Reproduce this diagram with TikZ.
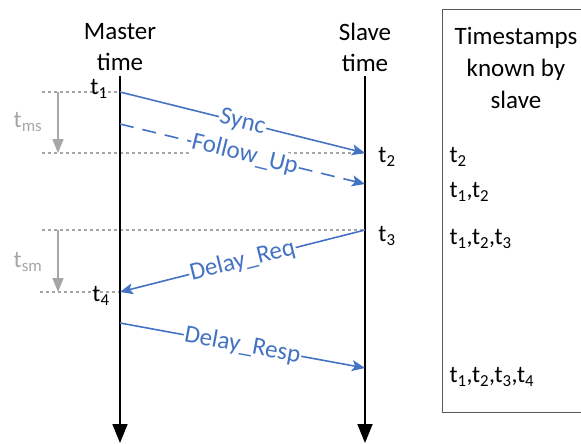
\documentclass[tikz,border=0pt]{standalone}
\usepackage{fontspec}
\setmainfont{Carlito}
\usetikzlibrary{arrows.meta}
\definecolor{msgblue}{HTML}{4472C4}
\definecolor{guide}{HTML}{A6A6A6}
\definecolor{frame}{HTML}{595959}
\tikzset{
  timeline/.style={line width=1.8pt,black,-{Triangle[width=15pt,length=19pt]}},
  msg/.style={line width=1.6pt,msgblue,-{Stealth[width=11pt,length=13pt,inset=3pt]}},
  msglabel/.style={text=msgblue,fill=white,inner sep=1pt,sloped,font=\fontsize{25}{30}\selectfont},
  guideline/.style={guide,line width=1.3pt,dash pattern=on 3pt off 3pt},
  interval/.style={guide,line width=1.6pt,-{Triangle[width=11pt,length=14pt]}},
  head/.style={align=center,font=\fontsize{25}{31}\selectfont},
  boxhead/.style={align=center,font=\fontsize{25}{32}\selectfont},
  stamp/.style={font=\fontsize{24}{28}\selectfont},
  known/.style={anchor=west,font=\fontsize{24}{28}\selectfont},
}
\begin{document}
\begin{tikzpicture}[x=1pt,y=-1pt]
\useasboundingbox (0,0) rectangle (581,444);

% column headings
\node[head] (mhead) at (120,47) {Master\\time};
\node[head] (shead) at (365,47) {Slave\\time};

% timestamp box
\draw[frame,line width=1pt] (585,10) -- (442,10) -- (442,412) -- (585,412);
\node[boxhead] (khead) at (516,68) {Timestamps\\known by\\slave};
\node[known] (k1) at (446,157) {t\textsubscript{2}};
\node[known] (k2) at (446,192) {t\textsubscript{1},t\textsubscript{2}};
\node[known] (k3) at (446,239) {t\textsubscript{1},t\textsubscript{2},t\textsubscript{3}};
\node[known] (k4) at (446,377) {t\textsubscript{1},t\textsubscript{2},t\textsubscript{3},t\textsubscript{4}};

% event points on the time lines
\coordinate (mtop) at (120,76);
\coordinate (mbot) at (120,443);
\coordinate (stop) at (365,76);
\coordinate (sbot) at (365,443);
\coordinate (e1) at (120,92);
\coordinate (e2) at (365,153);
\coordinate (f1) at (120,124);
\coordinate (f2) at (365,184);
\coordinate (e3) at (365,230);
\coordinate (e4) at (120,292);
\coordinate (r1) at (120,323);
\coordinate (r2) at (365,368);

% dotted guides
\coordinate (g1) at (42,92);
\coordinate (g2) at (42,153);
\coordinate (g3) at (42,230);
\coordinate (g4) at (40,292);
\draw[guideline] (g1) -- (e1);
\draw[guideline] (g2) -- (e2);
\draw[guideline] (g3) -- (e3);
\draw[guideline] (g4) -- (e4);

% delay intervals
\coordinate (i1a) at (58,92);
\coordinate (i1b) at (58,153);
\coordinate (i2a) at (58,230);
\coordinate (i2b) at (58,292);
\draw[interval] (i1a) -- (i1b);
\draw[interval] (i2a) -- (i2b);
\node[stamp,text=guide] (tms) at (28,122) {t\textsubscript{ms}};
\node[stamp,text=guide] (tsm) at (28,262) {t\textsubscript{sm}};

% time lines
\draw[timeline] (mtop) -- (mbot);
\draw[timeline] (stop) -- (sbot);

% timestamp labels
\node[stamp] (t1) at (99,89) {t\textsubscript{1}};
\node[stamp] (t2) at (387,157) {t\textsubscript{2}};
\node[stamp] (t3) at (387,236) {t\textsubscript{3}};
\node[stamp] (t4) at (101,296) {t\textsubscript{4}};

% messages
\draw[msg] (e1) -- node[msglabel] (sync) {Sync} (e2);
\draw[msg,dash pattern=on 14pt off 9pt] (f1) -- node[msglabel,pos=0.51] (fup) {Follow\_Up} (f2);
\draw[msg] (e3) -- node[msglabel] (dreq) {Delay\_Req} (e4);
\draw[msg] (r1) -- node[msglabel] (dresp) {Delay\_Resp} (r2);
\end{tikzpicture}
\end{document}
